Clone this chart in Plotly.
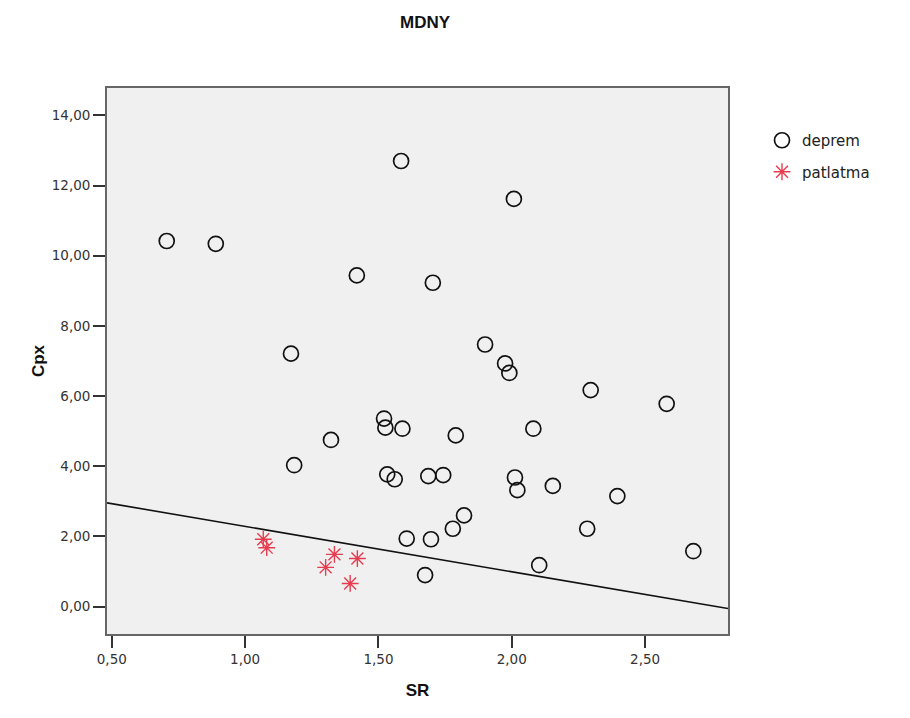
import plotly.graph_objects as go

# deprem (earthquake) points
deprem_sr = [0.706, 0.890, 1.585, 2.008, 1.419, 1.704, 1.172, 1.900, 1.975, 1.991,
             2.296, 2.581, 1.521, 1.526, 1.590, 1.322, 1.790, 2.081, 1.184, 1.533,
             1.561, 1.687, 1.743, 2.012, 2.021, 2.154, 2.396, 1.821, 1.779, 1.606,
             1.697, 2.283, 2.681, 2.103, 1.675]
deprem_cpx = [10.42, 10.34, 12.70, 11.62, 9.44, 9.23, 7.21, 7.47, 6.93, 6.66,
              6.17, 5.78, 5.36, 5.10, 5.07, 4.75, 4.88, 5.07, 4.03, 3.77,
              3.63, 3.72, 3.75, 3.68, 3.32, 3.44, 3.15, 2.60, 2.22, 1.94,
              1.92, 2.22, 1.58, 1.18, 0.90]

# patlatma (explosion) points
patlatma_sr = [1.068, 1.081, 1.335, 1.302, 1.421, 1.394]
patlatma_cpx = [1.92, 1.68, 1.49, 1.12, 1.37, 0.66]

# discriminant line Cpx = intercept + slope * SR
line_intercept = 3.58
line_slope = -1.293

x_range = [0.482, 2.811]
y_range = [-0.78, 14.78]

x_tickvals = [0.5, 1.0, 1.5, 2.0, 2.5]
x_ticktext = ["0,50", "1,00", "1,50", "2,00", "2,50"]
y_tickvals = [0, 2, 4, 6, 8, 10, 12, 14]
y_ticktext = ["0,00", "2,00", "4,00", "6,00", "8,00", "10,00", "12,00", "14,00"]

line_x = x_range
line_y = [line_intercept + line_slope * v for v in line_x]

W, H = 902, 710  # page has an 8px body margin

fig = go.Figure()

fig.add_trace(go.Scatter(
    x=line_x, y=line_y, mode="lines",
    line=dict(color="#111111", width=1.6),
    showlegend=False, hoverinfo="skip"))

fig.add_trace(go.Scatter(
    x=deprem_sr, y=deprem_cpx, mode="markers", name="deprem", legendgroup="a",
    marker=dict(symbol="circle-open", size=15, color="#111111",
                line=dict(width=1.7, color="#111111"))))

fig.add_trace(go.Scatter(
    x=patlatma_sr, y=patlatma_cpx, mode="markers", name="patlatma", legendgroup="b",
    marker=dict(symbol="asterisk-open", size=14, color="#e63c4f",
                line=dict(width=1.4, color="#e63c4f"))))

fig.update_layout(
    width=W, height=H,
    margin=dict(l=99, r=182, t=80, b=84, autoexpand=False),
    paper_bgcolor="white",
    plot_bgcolor="#f0f0f0",
    font=dict(family="Liberation Sans, Arial, sans-serif", color="#222222"),
    title=dict(text="<b>MDNY</b>", x=417 / W, xanchor="center",
               y=1 - 14 / H, yanchor="middle",
               font=dict(size=17, color="#111111")),
    legend=dict(x=754 / W, xref="container", xanchor="left",
                y=1 - 116 / H, yref="container", yanchor="top",
                font=dict(family="DejaVu Sans", size=15, color="#222222"),
                bgcolor="rgba(0,0,0,0)", tracegroupgap=9, itemwidth=30),
    showlegend=True,
)

fig.update_xaxes(
    range=x_range, tickvals=x_tickvals, ticktext=x_ticktext,
    showgrid=False, zeroline=False,
    showline=True, linecolor="#666666", linewidth=1.8, mirror=True,
    ticks="outside", ticklen=12, tickcolor="#333333", tickwidth=1.5,
    tickfont=dict(family="DejaVu Sans", size=13.5, color="#333333"),
    title=dict(text="<b>SR</b>", font=dict(size=17, color="#111111"), standoff=18),
)
fig.update_yaxes(
    range=y_range, tickvals=y_tickvals, ticktext=y_ticktext,
    showgrid=False, zeroline=False,
    showline=True, linecolor="#666666", linewidth=1.8, mirror=True,
    ticks="outside", ticklen=12, tickcolor="#333333", tickwidth=1.5,
    tickfont=dict(family="DejaVu Sans", size=13.5, color="#333333"),
    title=dict(text="<b>Cpx</b>", font=dict(size=17, color="#111111"), standoff=3),
)

fig.write_html("out.html")
